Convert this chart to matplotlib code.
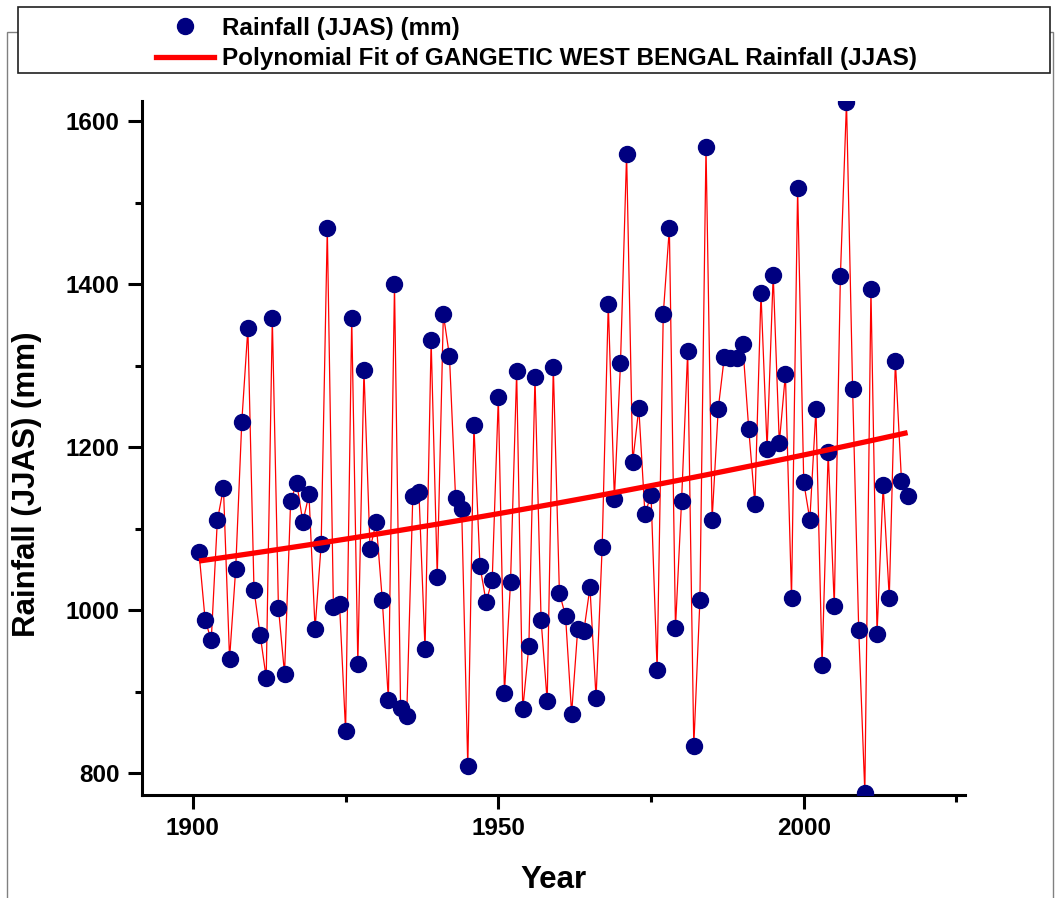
import numpy as np
import matplotlib
matplotlib.use("Agg")
import matplotlib.pyplot as plt
from matplotlib.patches import Rectangle
from matplotlib.lines import Line2D

plt.rcParams['font.family'] = ['Liberation Sans', 'DejaVu Sans']
plt.rcParams['font.weight'] = 'bold'

# JJAS rainfall (mm), Gangetic West Bengal
years = list(range(1901, 2018))
rainfall = [
    1071, 988, 963, 1110, 1150, 940, 1050, 1231, 1346, 1025,   # 1901-1910
    970, 917, 1358, 1003, 922, 1134, 1156, 1108, 1142, 977,    # 1911-1920
    1081, 1469, 1004, 1008, 851, 1359, 934, 1295, 1075, 1108,  # 1921-1930
    1013, 890, 1400, 880, 870, 1140, 1145, 952, 1331, 1041,    # 1931-1940
    1363, 1312, 1138, 1124, 808, 1227, 1054, 1010, 1037, 1261, # 1941-1950
    898, 1035, 1293, 878, 956, 1286, 988, 888, 1299, 1021,     # 1951-1960
    993, 873, 977, 974, 1028, 892, 1078, 1376, 1137, 1303,     # 1961-1970
    1560, 1182, 1248, 1118, 1141, 926, 1363, 1469, 978, 1134,  # 1971-1980
    1318, 833, 1012, 1569, 1111, 1247, 1311, 1309, 1309, 1327, # 1981-1990
    1222, 1130, 1389, 1198, 1412, 1205, 1290, 1015, 1518, 1157,# 1991-2000
    1111, 1247, 932, 1194, 1005, 1410, 1624, 1272, 976, 776,   # 2001-2010
    1394, 971, 1153, 1015, 1306, 1159, 1140,                   # 2011-2017
]
series_label = 'Rainfall (JJAS) (mm)'
fit_label = 'Polynomial Fit of GANGETIC WEST BENGAL Rainfall (JJAS)'

yrs = np.array(years)
rain = np.array(rainfall)
coef = np.polyfit(yrs, rain, 2)
fit = np.polyval(coef, yrs)

W, H = 1057, 898
fig = plt.figure(figsize=(W / 100, H / 100), dpi=100)
ax = fig.add_axes([141.6 / W, 1 - 795 / H, (965 - 141.6) / W, (795 - 101) / H])

# outer page frame and legend box
fig.add_artist(Rectangle((7 / W, -0.05), (1053 - 7) / W, 1.05 - 32 / H,
                         transform=fig.transFigure, fill=False,
                         edgecolor='#808080', linewidth=1, zorder=0))
fig.add_artist(Rectangle((18 / W, 1 - 73 / H), (1050 - 18) / W, 66 / H,
                         transform=fig.transFigure, facecolor='white',
                         edgecolor='#202020', linewidth=1.2, zorder=1))

ax.plot(yrs, rain, color='red', linewidth=0.9, zorder=2)
ax.plot(yrs, rain, linestyle='none', marker='o', markersize=11.5,
        markerfacecolor='#000080', markeredgecolor='#000080', zorder=3)
ax.plot(yrs, fit, color='red', linewidth=3.8, solid_capstyle='butt', zorder=4)

ax.set_xlim(1891.6, 2026.4)
ax.set_ylim(773, 1625)
ax.set_xticks([1900, 1950, 2000])
ax.set_xticks([1925, 1975, 2025], minor=True)
ax.set_yticks([800, 1000, 1200, 1400, 1600])
ax.set_yticks([900, 1100, 1300, 1500], minor=True)

for s in ['top', 'right']:
    ax.spines[s].set_visible(False)
for s in ['left', 'bottom']:
    ax.spines[s].set_linewidth(2.2)

ax.tick_params(which='major', direction='out', length=10, width=2.2,
               labelsize=17.5, pad=6)
ax.tick_params(which='minor', direction='out', length=5, width=2.2)
for lab in ax.get_xticklabels() + ax.get_yticklabels():
    lab.set_fontweight('bold')

ax.set_xlabel('Year', fontsize=22.5, fontweight='bold', labelpad=18)
fig.text(27 / W, 1 - 484 / H, 'Rainfall (JJAS) (mm)', rotation=90,
         fontsize=22.5, fontweight='bold', ha='center', va='center')

handles = [
    Line2D([], [], linestyle='none', marker='o', markersize=11.5,
           markerfacecolor='#000080', markeredgecolor='#000080'),
    Line2D([], [], color='red', linewidth=3.8),
]
leg = fig.legend(handles, [series_label, fit_label], loc='upper left',
                 bbox_to_anchor=(156 / W, 1 - 17 / H), frameon=False,
                 fontsize=17.5, handlelength=2.4, handletextpad=0.3,
                 labelspacing=0.29, borderpad=0, borderaxespad=0)
leg.set_zorder(5)
for t in leg.get_texts():
    t.set_fontweight('bold')

fig.savefig('out.png', dpi=100, facecolor='white')
